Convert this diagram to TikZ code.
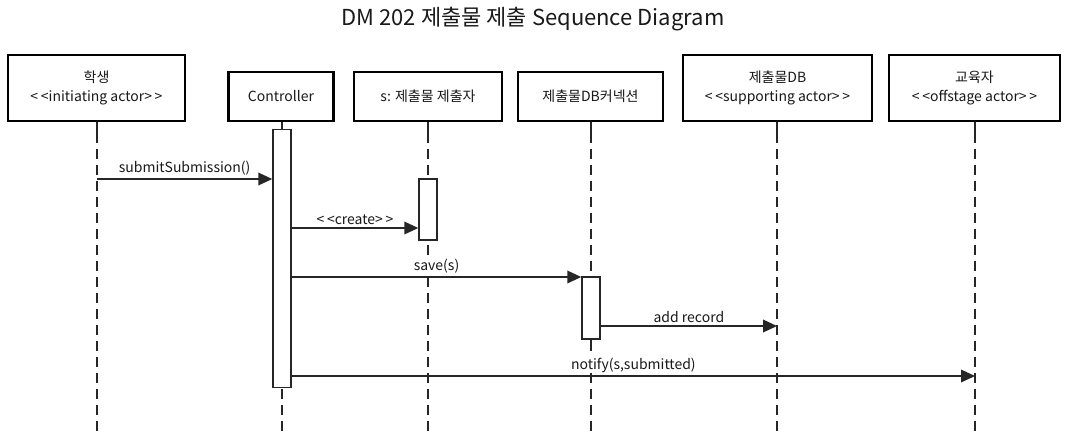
\documentclass[tikz,border=0pt]{standalone}
\usepackage{fontspec}
\setmainfont{Noto Sans CJK KR}
\usetikzlibrary{arrows.meta}
\newcommand{\lt}{<\kern2pt<}
\newcommand{\gt}{>\kern2pt>}
\tikzset{
  x=0.75pt, y=-0.75pt,
  box/.style={draw=black, line width=2.2pt, fill=white, align=center, font=\fontsize{10.5}{14}\selectfont, inner sep=0pt, text=black!90},
  act/.style={draw=black!85, line width=1.1pt, fill=white, minimum width=13.5pt, inner sep=0pt},
  lifeline/.style={draw=black!85, line width=1.1pt},
  lifedash/.style={draw=black!85, line width=1.1pt, dash pattern=on 7.5pt off 4.5pt},
  msg/.style={draw=black!85, line width=1.1pt, -{Triangle[length=10.5pt,width=9.5pt]}},
  lbl/.style={midway, above=1.5pt, fill=white, font=\fontsize{10.5}{12}\selectfont, inner sep=0.5pt, text=black!90}
}
\begin{document}
\begin{tikzpicture}
\useasboundingbox (0,0) rectangle (1069,437);
\node[font=\fontsize{16.5}{19}\selectfont, text=black!90] (title) at (533,19) {DM 202 제출물 제출 Sequence Diagram};

\node[box, minimum width=132.75pt, minimum height=49.5pt] (stu) at (96.5,88) {학생\\\lt initiating actor\gt};
\node[box, minimum width=78.75pt, minimum height=36.75pt] (ctl) at (281,96.5) {Controller};
\node[box, minimum width=111pt, minimum height=36.75pt] (sub) at (428,96.5) {s: 제출물 제출자};
\node[box, minimum width=108.75pt, minimum height=36.75pt] (dbc) at (590.5,96.5) {제출물DB커넥션};
\node[box, minimum width=141.75pt, minimum height=49.5pt] (db) at (777.5,88) {제출물DB\\\lt supporting actor\gt};
\node[box, minimum width=128.25pt, minimum height=49.5pt] (edu) at (974.5,88) {교육자\\\lt offstage actor\gt};

% lifeline coordinates
\coordinate (stuM) at (97,133);  \coordinate (stuB) at (97,437);
\coordinate (ctlM) at (282,133); \coordinate (ctlB) at (282,437);
\coordinate (subM) at (428,133); \coordinate (subB) at (428,437);
\coordinate (dbcM) at (591,133); \coordinate (dbcB) at (591,437);
\coordinate (dbM) at (777,133);  \coordinate (dbB) at (777,437);
\coordinate (eduM) at (975,133); \coordinate (eduB) at (975,437);

\draw[lifeline] (stu.south -| stuM) -- (stuM);  \draw[lifedash] (stuM) -- (stuB);
\draw[lifeline] (ctl.south -| ctlM) -- (ctlM);  \draw[lifedash] (ctlM) -- (ctlB);
\draw[lifeline] (sub.south -| subM) -- (subM);  \draw[lifedash] (subM) -- (subB);
\draw[lifeline] (dbc.south -| dbcM) -- (dbcM);  \draw[lifedash] (dbcM) -- (dbcB);
\draw[lifeline] (db.south -| dbM) -- (dbM);     \draw[lifedash] (dbM) -- (dbB);
\draw[lifeline] (edu.south -| eduM) -- (eduM);  \draw[lifedash] (eduM) -- (eduB);

% activations
\node[act, minimum height=193.5pt] (actC) at (282,258.5) {};
\node[act, minimum height=45.75pt] (actS) at (428,209.5) {};
\node[act, minimum height=46.5pt] (actD) at (591,308) {};
\draw[lifeline] (actD.south) -- ++(0,9);

% message end points
\coordinate (m1) at (0,179);
\coordinate (m2) at (0,228);
\coordinate (m3) at (0,277);
\coordinate (m4) at (0,326);
\coordinate (m5) at (0,376);

% messages
\draw[msg] (stuM |- m1) -- node[lbl] {submitSubmission()} (actC.west |- m1);
\draw[msg] (actC.east |- m2) -- node[lbl] {\lt create\gt} (actS.west |- m2);
\draw[msg] (actC.east |- m3) -- node[lbl] {save(s)} (actD.west |- m3);
\draw[msg] (actD.east |- m4) -- node[lbl] {add record} (dbM |- m4);
\draw[msg] (actC.east |- m5) -- node[lbl] {notify(s,submitted)} (eduM |- m5);
\end{tikzpicture}
\end{document}
